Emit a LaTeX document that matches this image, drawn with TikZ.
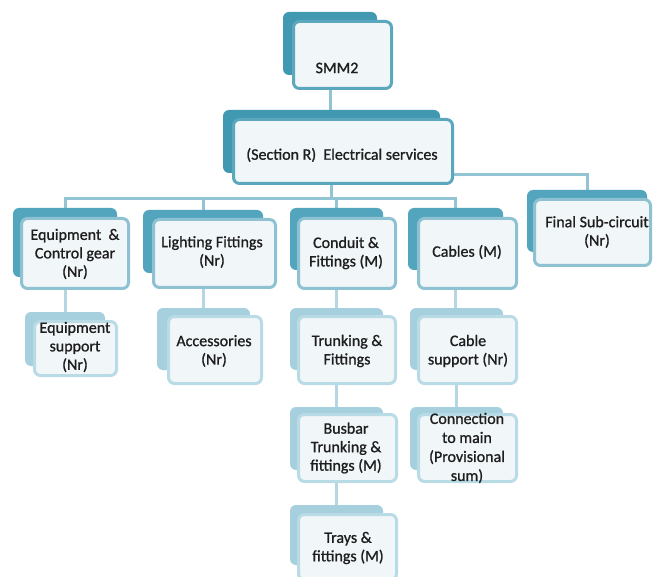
\documentclass[tikz,border=0pt]{standalone}
\usepackage{fontspec}
\setmainfont{Carlito}
\newfontfamily\lblfont[FakeBold=1]{Carlito}
\usetikzlibrary{backgrounds,fit}
\definecolor{topback}{HTML}{4198B1}
\definecolor{topbord}{HTML}{5AA7BE}
\definecolor{rowback}{HTML}{52A5BD}
\definecolor{rowbord}{HTML}{8EC2D2}
\definecolor{lowback}{HTML}{A6D0DE}
\definecolor{lowbord}{HTML}{B8DBE6}
\definecolor{fillF}{HTML}{F1F6F8}
\definecolor{connA}{HTML}{93C4D3}
\definecolor{connL}{HTML}{B5D7E2}
\definecolor{txtc}{HTML}{1E1E1E}
\tikzset{
  base/.style={rectangle, rounded corners=6pt, inner sep=0pt, outer sep=0pt},
  backT/.style={base, fill=topback},
  frontT/.style={base, fill=fillF, draw=topbord, line width=3pt},
  backR/.style={base, fill=rowback},
  frontR/.style={base, fill=fillF, draw=rowbord, line width=3pt},
  backL/.style={base, fill=lowback},
  frontL/.style={base, fill=fillF, draw=lowbord, line width=3pt},
  lbl/.style={font=\lblfont\fontsize{16}{18.5}\selectfont, text=txtc, align=center, inner sep=0pt},
  conA/.style={draw=connA, line width=3pt},
  conL/.style={draw=connL, line width=3pt},
}
\begin{document}
\begin{tikzpicture}[x=1pt, y=-1pt]
\useasboundingbox (0,0) rectangle (653,577);

% SMM2
\node[backT, fit={(283,12)(377,75)}] (smmb) {};
\node[frontT, fit={(293.5,21.5)(391.5,88.5)}] (smm) {};
\node[lbl] (smmt) at (337,68) {SMM2};

% Section R
\node[backT, fit={(223,110)(440,173)}] (secb) {};
\node[frontT, fit={(233.5,119.5)(452.5,183.5)}] (sec) {};
\node[lbl] (sect) at (342,155) {(Section R)\ \ Electrical services};

% Row 1
\node[backR, fit={(13,208)(117,277)}] (eqb) {};
\node[frontR, fit={(21.5,218.5)(128.5,288.5)}] (eq) {};
\node[lbl] (eqt) at (75,254) {Equipment\ \ \&\\Control gear\\(Nr)};

\node[backR, fit={(143,210)(263,273)}] (lib) {};
\node[frontR, fit={(153.5,219.5)(275.5,287.5)}] (li) {};
\node[lbl] (lit) at (212,252) {Lighting Fittings\\(Nr)};

\node[backR, fit={(290,208)(383,270)}] (cob) {};
\node[frontR, fit={(298.5,218.5)(395.5,288.5)}] (co) {};
\node[lbl] (cot) at (346,253) {Conduit \&\\Fittings (M)};

\node[backR, fit={(408,208)(503,270)}] (cab) {};
\node[frontR, fit={(418.5,218.5)(516.5,288.5)}] (ca) {};
\node[lbl] (cat) at (467,252) {Cables (M)};

\node[backR, fit={(527,190)(647,252)}] (finb) {};
\node[frontR, fit={(534.5,199.5)(650.5,265.5)}] (fin) {};
\node[lbl] (fint) at (597,232) {Final Sub-circuit\\(Nr)};

% Row 2
\node[backL, fit={(25,312)(105,366)}] (esb) {};
\node[frontL, fit={(34.5,321.5)(116.5,375.5)}] (es) {};
\node[lbl] (est) at (75,347) {Equipment\\support\\(Nr)};

\node[backL, fit={(157,308)(250,370)}] (acb) {};
\node[frontL, fit={(168.5,316.5)(261.5,383.5)}] (ac) {};
\node[lbl] (act) at (214,351) {Accessories\\(Nr)};

\node[backL, fit={(290,308)(383,370)}] (trb) {};
\node[frontL, fit={(298.5,316.5)(395.5,383.5)}] (tr) {};
\node[lbl] (trt) at (347,351) {Trunking \&\\Fittings};

\node[backL, fit={(410,308)(503,370)}] (csb) {};
\node[frontL, fit={(418.5,316.5)(516.5,383.5)}] (cs) {};
\node[lbl] (cst) at (468,351) {Cable\\support (Nr)};

% Row 3
\node[backL, fit={(290,407)(383,470)}] (bub) {};
\node[frontL, fit={(298.5,414.5)(396.5,481.5)}] (bu) {};
\node[lbl] (but) at (346,448) {Busbar\\Trunking \&\\fittings (M)};

\node[backL, fit={(410,407)(503,470)}] (cnb) {};
\node[frontL, fit={(418.5,414.5)(516.5,481.5)}] (cn) {};
\node[lbl, font=\lblfont\fontsize{16}{19}\selectfont] (cnt) at (467,448) {Connection\\to main\\(Provisional\\sum)};

% Row 4
\node[backL, fit={(290,505)(383,565)}] (tyb) {};
\node[frontL, fit={(298.5,514.5)(396.5,580)}] (ty) {};
\node[lbl] (tyt) at (348,548) {Trays \&\\fittings (M)};

\coordinate (bus) at (332,199);
\coordinate (finj) at (448,175);

\begin{scope}[on background layer]
\fill[white] (0,0) rectangle (653,577);
\draw[conA] (smmb.center) -- (smmb.center |- secb.center);
\draw[conA] (secb.center) -- (secb.center |- bus);
\draw[conA] (eqb.center) |- (bus);
\draw[conA] (lib.center) |- (bus);
\draw[conA] (cob.center) |- (bus);
\draw[conA] (cab.center) |- (bus);
\draw[conA] (finb.center) |- (finj);
\draw[conL] (eqb.center) -- (eqb.center |- esb.center);
\draw[conL] (lib.center) -- (lib.center |- acb.center);
\draw[conL] (cob.center) -- (cob.center |- trb.center);
\draw[conL] (trb.center) -- (trb.center |- bub.center);
\draw[conL] (bub.center) -- (bub.center |- tyb.center);
\draw[conL] (cab.center) -- (cab.center |- csb.center);
\draw[conL] (csb.center) -- (csb.center |- cnb.center);
\end{scope}
\end{tikzpicture}
\end{document}
